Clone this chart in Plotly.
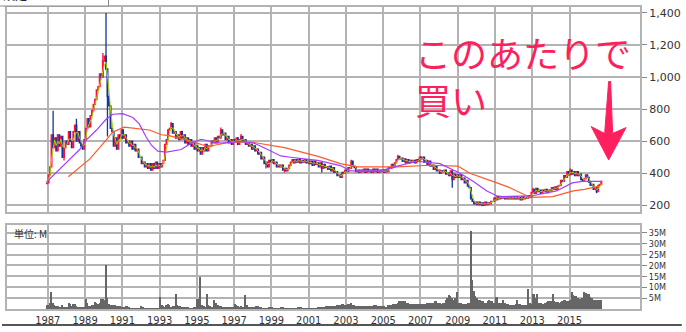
import pandas as pd
import plotly.graph_objects as go

# ---------------- data ----------------
START_MONTH = "1986-12"
FIRST_OPEN = 335

# monthly closes, Dec-1986 then Jan..Dec of each year, last row Jan..Sep 2016
CLOSES = [
    340,
    390, 440, 640, 560, 620, 540, 640, 570, 630, 500, 560, 600,          # 1987
    580, 660, 600, 560, 660, 700, 600, 660, 590, 570, 550, 610,          # 1988
    680, 740, 690, 760, 790, 830, 860, 920, 940, 1020, 1000, 1100,       # 1989
    1130, 1050, 880, 820, 680, 660, 570, 620, 550, 640, 620, 670,        # 1990
    620, 640, 590, 600, 570, 600, 550, 580, 540, 550, 500, 500,          # 1991
    460, 470, 440, 460, 430, 460, 420, 460, 430, 470, 430, 460,          # 1992
    440, 460, 480, 580, 610, 670, 680, 710, 650, 660, 620, 640,          # 1993
    610, 660, 620, 640, 590, 620, 580, 610, 570, 590, 550, 570,          # 1994
    540, 560, 520, 560, 540, 580, 540, 570, 570, 600, 590, 620,          # 1995
    590, 630, 620, 670, 640, 650, 610, 630, 590, 610, 580, 610,          # 1996
    600, 620, 580, 610, 630, 600, 610, 580, 590, 570, 580, 550,          # 1997
    570, 540, 550, 520, 530, 490, 500, 460, 470, 440, 480, 470,          # 1998
    485, 460, 470, 440, 450, 440, 450, 420, 430, 415, 430, 450,          # 1999
    470, 485, 465, 485, 470, 490, 465, 480, 470, 485, 465, 475,          # 2000
    460, 475, 450, 475, 455, 465, 440, 465, 430, 455, 435, 440,          # 2001
    425, 445, 415, 435, 405, 410, 385, 390, 375, 405, 400, 420,          # 2002
    410, 435, 430, 475, 445, 435, 410, 420, 405, 420, 410, 425,          # 2003
    405, 425, 410, 420, 405, 425, 410, 425, 405, 420, 410, 420,          # 2004
    405, 420, 410, 435, 430, 455, 440, 465, 485, 505, 490, 495,          # 2005
    475, 490, 465, 485, 465, 480, 470, 480, 465, 485, 480, 500,          # 2006
    490, 500, 470, 480, 450, 475, 445, 450, 425, 445, 415, 420,          # 2007
    400, 415, 410, 420, 395, 400, 385, 415, 360, 395, 375, 390,          # 2008
    375, 390, 360, 370, 340, 355, 320, 310, 240, 225, 210, 220,          # 2009
    205, 220, 205, 215, 200, 220, 205, 215, 210, 225, 225, 245,          # 2010
    235, 255, 240, 255, 245, 255, 240, 255, 240, 250, 240, 255,          # 2011
    240, 255, 240, 250, 235, 255, 240, 250, 245, 260, 250, 280,          # 2012
    300, 275, 305, 285, 295, 275, 295, 285, 300, 280, 295, 290,          # 2013
    310, 300, 315, 300, 320, 325, 355, 350, 385, 375, 410, 390,          # 2014
    420, 395, 410, 385, 410, 385, 395, 360, 350, 365, 390, 375,          # 2015
    345, 325, 330, 300, 310, 285, 325, 330, 350,                         # 2016
]

# notable wicks
HIGH_SPIKES = {"1987-04": 790, "1988-07": 740, "1989-12": 1150, "1990-02": 1400,
               "1993-08": 720, "1994-03": 665, "1996-04": 685, "1997-05": 645,
               "2003-04": 485, "2005-10": 515, "2015-01": 430, "2013-01": 310}
LOW_SPIKES = {"1987-11": 480, "1990-03": 630, "1998-09": 430, "1999-09": 405,
              "2001-09": 405, "2008-09": 310, "2010-04": 195, "2016-06": 275}

# monthly volume in millions, same months as CLOSES
VOLUMES = [
    2,
    2, 3, 8, 3, 2, 1.5, 1.5, 1, 1, 2, 1, 1,                 # 1987
    1, 2.7, 2.5, 1.5, 2.3, 2.5, 1.5, 1, 1, 0.8, 0.8, 1,      # 1988
    4.5, 3, 1.5, 1.5, 2, 2, 3.3, 3, 2.5, 3, 4.5, 4.5,        # 1989
    4, 20, 5, 2.5, 2, 2, 2, 1.8, 1.5, 1.5, 1.2, 1,           # 1990
    1, 1, 1.5, 1.5, 1, 0.5, 0.5, 0.3, 0.5, 0.5, 0.5, 0.5,    # 1991
    1.5, 1, 0.5, 0.5, 0.3, 0.3, 0.3, 0.3, 0.5, 0.5, 0.5, 0.5,  # 1992
    5.7, 2, 1.5, 1, 2, 2.2, 2, 1, 1.5, 1.5, 7, 2,            # 1993
    1.5, 1.2, 1, 1, 1, 0.8, 0.8, 0.5, 0.5, 0.5, 1, 1,        # 1994
    4.5, 4.5, 14.6, 2, 1.5, 1, 7, 2, 1.5, 1, 1, 4,           # 1995
    3, 2, 1.5, 1.2, 1, 1, 0.8, 0.8, 0.8, 0.8, 1, 1,          # 1996
    2.5, 2, 1.5, 1, 1.5, 1, 1, 6.5, 2, 1, 0.8, 0.8,          # 1997
    1, 1, 1.5, 1.5, 1, 0.8, 0.5, 0.5, 0.5, 0.5, 1, 0.8,      # 1998
    0.8, 0.5, 0.5, 0.5, 0.5, 0.5, 1, 0.8, 0.5, 0.5, 0.5, 0.5,  # 1999
    0.5, 0.5, 0.5, 0.5, 0.5, 1, 1, 0.8, 0.5, 0.5, 0.5, 0.5,  # 2000
    0.5, 0.5, 0.5, 0.5, 0.5, 0.5, 1, 1, 1, 1, 1, 1.5,        # 2001
    1.5, 1.5, 1.5, 1.5, 1.5, 1.5, 2, 2, 2, 2.5, 2.5, 2,      # 2002
    2, 2.5, 2.5, 3, 2, 2, 1.5, 1.5, 1.5, 1.5, 1.5, 1.5,      # 2003
    1.5, 1.5, 1.5, 1.5, 1.5, 1.5, 2, 2, 1.5, 1.5, 1.5, 1.5,  # 2004
    1.5, 1, 1, 2, 2, 2, 2.5, 2.5, 2.5, 3, 3.5, 3.5,          # 2005
    3.5, 3.5, 3.5, 3, 3, 2.5, 2.5, 2.5, 2.5, 2.5, 2.5, 2.5,  # 2006
    2.5, 2.5, 2.5, 2.5, 3, 3, 3, 3, 3, 3.5, 3.5, 3,          # 2007
    3, 2.5, 3, 3, 4, 5, 6.5, 6, 5, 4, 5, 8,                  # 2008
    3, 2.7, 3, 2.5, 2.5, 2.5, 3, 3, 36, 13.5, 8.3, 6,        # 2009
    5, 4, 4, 3.8, 3.5, 3, 3, 3.5, 4, 3.5, 3.5, 3,            # 2010
    5.4, 5.4, 3, 3, 3, 4, 3, 2.5, 2.5, 2, 2, 2,              # 2011
    2, 2.5, 4.2, 2.5, 2.5, 2, 2, 2, 2, 9.3, 3, 2.5,          # 2012
    7, 7, 5, 7, 3, 2.7, 2.5, 2.5, 3, 3.3, 3.5, 3.5,          # 2013
    3.5, 7, 3.5, 3.3, 3.3, 3, 3.3, 3.5, 4, 4, 3.5, 3.5,      # 2014
    4, 7.7, 6.5, 6, 6, 5, 4.5, 4.5, 5, 8, 7.5, 6.8,          # 2015
    6.8, 5.4, 5, 4, 4, 4, 4, 4, 4,                           # 2016
]

# medium moving average (purple), (fractional year, value)
MA_MID_T = [1986.93, 1987.64, 1988.35, 1988.71, 1989.07, 1989.6, 1990.14, 1990.49,
            1991.02, 1991.56, 1991.91, 1992.27, 1992.56, 1992.9, 1993.36, 1994.16,
            1994.7, 1995.23, 1995.76, 1996.3, 1997.36, 1998.06, 1998.8, 1999.5,
            2000.03, 2001.48, 2002.7, 2003.24, 2004.84, 2005.75, 2006.82, 2008.05,
            2009.12, 2009.82, 2010.56, 2011.09, 2011.41, 2013.01, 2014.3, 2015.15,
            2015.68, 2016.06, 2016.75]
MA_MID_V = [345, 428, 508, 548, 608, 668, 738, 768,
            772, 748, 708, 628, 575, 538, 532, 548,
            588, 612, 598, 588, 598, 588, 548, 508,
            500, 480, 448, 415, 415, 445, 475, 460,
            400, 350, 290, 260, 255, 260, 290, 340,
            350, 350, 350]

# long moving average (orange)
MA_LONG_T = [1988.1, 1989.24, 1990.14, 1990.49, 1991.1, 1991.9, 1992.45, 1993.1,
             1993.5, 1994.5, 1995.6, 1996.7, 1997.9, 1999.7, 2001.5, 2002.7,
             2003.6, 2005.75, 2007.5, 2009.0, 2009.65, 2011.1, 2011.8, 2012.7,
             2013.0, 2014.1, 2015.2, 2015.8, 2016.6]
MA_LONG_V = [378, 488, 608, 658, 688, 680, 670, 640,
             635, 605, 567, 592, 595, 560, 505, 460,
             440, 440, 450, 445, 400, 340, 310, 260,
             250, 255, 290, 300, 320]

PRICE_TICKS = [200, 400, 600, 800, 1000, 1200, 1400]
VOL_TICKS = [5, 10, 15, 20, 25, 30, 35]
VOL_TICK_TEXT = ["5M", "10M", "15M", "20M", "25M", "30M", "35M"]
YEAR_TICKS = list(range(1987, 2016, 2))

NOTE_LINES = ["このあたりで", "買い"]
UNIT_LABEL = "単位: M"

# ---------------- build ----------------
dates = pd.date_range(START_MONTH + "-01", periods=len(CLOSES), freq="MS") + pd.Timedelta(days=14)
keys = [d.strftime("%Y-%m") for d in dates]
opens = [FIRST_OPEN] + CLOSES[:-1]
highs = [max(o, c) for o, c in zip(opens, CLOSES)]
lows = [min(o, c) for o, c in zip(opens, CLOSES)]
for i, k in enumerate(keys):
    if k in HIGH_SPIKES:
        highs[i] = max(highs[i], HIGH_SPIKES[k])
    if k in LOW_SPIKES:
        lows[i] = min(lows[i], LOW_SPIKES[k])

ma_short = pd.Series(CLOSES).rolling(3, min_periods=1).mean()


def fy(t):
    y = int(t)
    return pd.Timestamp(year=y, month=1, day=1) + pd.Timedelta(days=(t - y) * 365.25)


mid_dates = [fy(t) for t in MA_MID_T]
long_dates = [fy(t) for t in MA_LONG_T]
year_dates = [pd.Timestamp(year=y, month=1, day=1) for y in YEAR_TICKS]

GRID = "#b3b3b3"
PINK = "#ff1f5e"

fig = go.Figure()
fig.add_trace(go.Scatter(x=dates, y=ma_short, mode="lines",
                         line=dict(color="#a8d400", width=1), xaxis="x", yaxis="y"))
fig.add_trace(go.Candlestick(
    x=dates, open=opens, high=highs, low=lows, close=CLOSES,
    increasing=dict(line=dict(color="#ff1040", width=1.3), fillcolor="#ff1040"),
    decreasing=dict(line=dict(color="#14349a", width=1.3), fillcolor="#14349a"),
    whiskerwidth=0, xaxis="x", yaxis="y", hoverinfo="skip"))
fig.add_trace(go.Scatter(x=long_dates, y=MA_LONG_V, mode="lines",
                         line=dict(color="#ff5a2a", width=1.2), xaxis="x", yaxis="y"))
fig.add_trace(go.Scatter(x=mid_dates, y=MA_MID_V, mode="lines",
                         line=dict(color="#a63cff", width=1.2), xaxis="x", yaxis="y"))
fig.add_trace(go.Bar(x=dates, y=VOLUMES, marker=dict(color="#666666", line=dict(width=0)),
                     xaxis="x2", yaxis="y2"))

# pixel helpers (plot area spans x 5..641, y 6..314)
def px(x):
    return (x - 5) / 636.0


def py(y):
    return (314 - y) / 308.0


XR = ["1984-10-23", "2018-10-13"]
axis_common = dict(showgrid=True, gridcolor=GRID, gridwidth=2, zeroline=False,
                   showline=True, mirror=True, linecolor=GRID, linewidth=2)

fig.update_layout(
    width=686, height=332,
    margin=dict(l=5, r=45, t=6, b=18),
    paper_bgcolor="white", plot_bgcolor="white",
    showlegend=False, bargap=0,
    xaxis=dict(domain=[0, 1], anchor="y", type="date", range=XR,
               tickvals=year_dates, showticklabels=False,
               rangeslider=dict(visible=False), **axis_common),
    yaxis=dict(domain=[py(215), 1], anchor="x", range=[159, 1436.7], side="right",
               tickvals=PRICE_TICKS, tickformat=",", ticks="outside", ticklen=5,
               tickcolor="#888", tickfont=dict(family="DejaVu Sans", size=11, color="#333"),
               **axis_common),
    xaxis2=dict(domain=[0, 1], anchor="y2", type="date", range=XR, matches="x",
                tickvals=year_dates, tickformat="%Y", ticks="",
                tickfont=dict(family="DejaVu Sans Condensed, DejaVu Sans", size=11, color="#333"),
                **axis_common),
    yaxis2=dict(domain=[0, py(228.3)], anchor="x2", range=[0, 38.6], side="right",
                tickvals=VOL_TICKS, ticktext=VOL_TICK_TEXT, ticks="outside", ticklen=5,
                tickcolor="#888",
                tickfont=dict(family="DejaVu Sans Condensed, DejaVu Sans", size=9, color="#333"),
                **axis_common),
)

# arrow
pts = [(609.5, 82), (611.5, 82), (613.5, 135), (627, 129), (609.5, 162),
       (592, 128), (605.5, 135)]
path = "M " + " L ".join(f"{px(x):.5f},{py(y):.5f}" for x, y in pts) + " Z"
fig.add_shape(type="path", path=path, xref="paper", yref="paper",
              fillcolor=PINK, line=dict(color=PINK, width=1))

# top-left box and bottom frame line
fig.add_shape(type="rect", xref="paper", yref="paper", x0=px(-3), x1=px(107),
              y0=py(5), y1=py(-5), line=dict(color="#888", width=1), fillcolor="white")
fig.add_shape(type="line", xref="paper", yref="paper", x0=px(0), x1=px(683),
              y0=py(330.3), y1=py(330.3), line=dict(color="#555", width=2))

fig.add_annotation(text="設定", xref="paper", yref="paper", x=px(-1), y=py(4),
                   xanchor="left", yanchor="bottom", showarrow=False,
                   font=dict(family="Noto Sans CJK JP", size=12, color="#222"))
fig.add_annotation(text="<br>".join(NOTE_LINES), xref="paper", yref="paper",
                   x=px(413), y=py(75.5), xanchor="left", yanchor="middle",
                   align="left", showarrow=False,
                   font=dict(family="Noto Sans CJK JP", size=36, color=PINK))
fig.add_annotation(text=UNIT_LABEL, xref="paper", yref="paper", x=px(10), y=py(237),
                   xanchor="left", yanchor="middle", showarrow=False,
                   font=dict(family="Noto Sans CJK JP", size=10, color="#333"))

fig.write_html("out.html")
